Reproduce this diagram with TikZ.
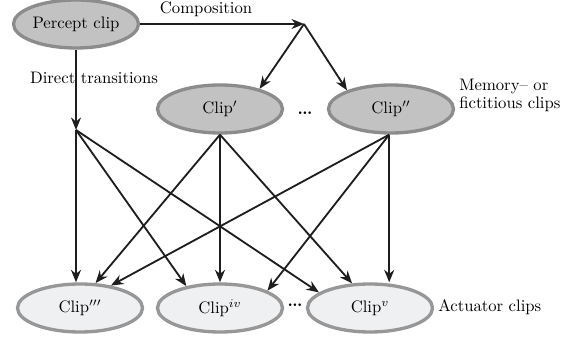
\documentclass[tikz,border=0pt]{standalone}
\usetikzlibrary{arrows.meta,shapes.geometric}
\definecolor{topfill}{HTML}{C2C2C2}
\definecolor{topdraw}{HTML}{8C8C8C}
\definecolor{botfill}{HTML}{EEF0F2}
\definecolor{botdraw}{HTML}{979797}
\definecolor{arrowcol}{HTML}{1E1E1E}
\begin{document}
\begin{tikzpicture}[x=0.6pt,y=-0.6pt,
  topclip/.style={ellipse, minimum width=75pt, minimum height=28.8pt, inner sep=0pt, fill=topfill, draw=topdraw, line width=2pt},
  botclip/.style={ellipse, minimum width=75pt, minimum height=28.8pt, inner sep=0pt, fill=botfill, draw=botdraw, line width=2pt},
  conn/.style={draw=arrowcol, line width=1.1pt, -{Stealth[length=7.5pt,width=6pt]}},
  lab/.style={inner sep=0pt, font=\fontsize{10}{11}\selectfont}]
\useasboundingbox (0,0) rectangle (583,339);
% nodes
\node[topclip] (p)  at (76,24)   {Percept clip};
\node[topclip] (c1) at (220,109) {Clip$'$};
\node[topclip] (c2) at (391,109) {Clip$''$};
\node[botclip] (c3) at (80,308)  {Clip$'''$};
\node[botclip] (c4) at (220,308) {Clip$^{iv}$};
\node[botclip] (c5) at (370,308) {Clip$^{v}$};
\coordinate (J1) at (304,24);
\coordinate (J2) at (76,130);
\coordinate (s2) at (c2.-94);
% labels
\node[lab, anchor=base] (lcomp) at (206,14) {Composition};
\node[lab, anchor=base] (ldir) at (94,84) {Direct transitions};
\node[lab, anchor=base west, align=left] (lmem) at (459,109) {Memory-- or\\fictitious clips};
\node[lab, anchor=base west] (lact) at (438,312) {Actuator clips};
\node[lab] (dtop) at (305,113) {\textbf{.\kern-0.4pt.\kern-0.4pt.}};
\node[lab] (dbot) at (295,305) {\textbf{.\kern-0.4pt.\kern-0.4pt.}};
% connectors
\draw[conn] (p.east) -- (J1);
\draw[conn] (J1) -- (c1.27);
\draw[conn] (J1) -- (c2.157);
\draw[conn] (p.south) -- (J2);
\draw[conn] (J2) -- (J2 |- c3.north);
\draw[conn] (J2) -- (c4.147);
\draw[conn] (J2) -- (c5.163);
\draw[conn] (c1.south) -- (c3.58);
\draw[conn] (c1.south) -- (c4.north);
\draw[conn] (c1.south) -- (c5.126);
\draw[conn] (s2) -- (c3.36);
\draw[conn] (s2) -- (c4.20);
\draw[conn] (s2) -- (s2 |- c5.north);
\end{tikzpicture}
\end{document}
